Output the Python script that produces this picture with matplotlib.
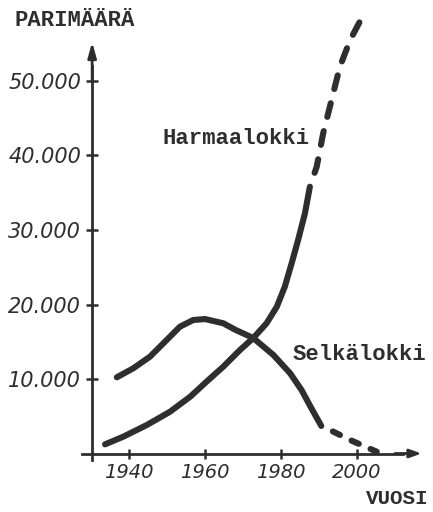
import matplotlib
matplotlib.use("Agg")
import matplotlib.pyplot as plt

# ---- data ----
harmaa_years = [1933.7, 1938.5, 1944.7, 1950.8, 1956.1, 1960.4, 1964.8, 1969.2, 1972.7,
                1976.2, 1978.9, 1981.0, 1982.8, 1984.5, 1986.3, 1987.6]
harmaa_vals = [1230, 2260, 3830, 5610, 7620, 9640, 11650, 13890, 15500,
               17480, 19700, 22390, 25530, 28660, 32240, 35810]
harmaa_proj_years = [1987.6, 1989.4, 1991.1, 1993.3, 1995.5, 1998.2, 2001.2]
harmaa_proj_vals = [35810, 38500, 42980, 47450, 51920, 55500, 58420]

selka_years = [1936.8, 1941.1, 1945.5, 1949.9, 1953.4, 1956.9, 1960.0, 1964.8, 1968.0,
               1972.7, 1978.0, 1982.4, 1985.4, 1988.0, 1990.6]
selka_vals = [10230, 11430, 12990, 15230, 17020, 17920, 18050, 17480, 16600,
              15500, 13220, 10770, 8520, 6070, 3700]
selka_proj_years = [1990.6, 1992.9, 1998.2, 2005.2]
selka_proj_vals = [3700, 3150, 1810, 240]

x_ticks = [1940, 1960, 1980, 2000]
x_tick_labels = ["1940", "1960", "1980", "2000"]
y_ticks = [10000, 20000, 30000, 40000, 50000]
y_tick_labels = ["10.000", "20.000", "30.000", "40.000", "50.000"]

ylabel_text = "PARIMÄÄRÄ"
xlabel_text = "VUOSI"
name_harmaa = "Harmaalokki"
name_selka = "Selkälokki"

# ---- figure ----
W, H = 433, 512
fig = plt.figure(figsize=(W / 100, H / 100), dpi=100)
ax = fig.add_axes([0, 0, 1, 1])
ax.set_xlim(1906.05, 2020.0)
ax.set_ylim(-7852, 60872)

ink = "#2e2e2e"
lw_curve = 4.4
lw_axis = 2.0

for s in ["top", "right"]:
    ax.spines[s].set_visible(False)
ax.spines["left"].set_position(("data", 1930.3))
ax.spines["bottom"].set_position(("data", 0))
ax.spines["left"].set_bounds(-870, 52000)
ax.spines["bottom"].set_bounds(1927.6, 2012)
for s in ["left", "bottom"]:
    ax.spines[s].set_linewidth(lw_axis)
    ax.spines[s].set_color(ink)

# arrow heads
ax.annotate("", xy=(1930.3, 55230), xytext=(1930.3, 50000),
            arrowprops=dict(arrowstyle="-|>,head_length=0.9,head_width=0.25",
                            lw=lw_axis, color=ink, shrinkA=0, shrinkB=0))
ax.annotate("", xy=(2017.0, 0), xytext=(2010, 0),
            arrowprops=dict(arrowstyle="-|>,head_length=0.7,head_width=0.25",
                            lw=lw_axis, color=ink, shrinkA=0, shrinkB=0))

ax.set_xticks(x_ticks, x_tick_labels)
ax.set_yticks(y_ticks, y_tick_labels)
ax.tick_params(axis="x", direction="inout", length=7, width=1.8, color=ink, pad=3,
               labelsize=14, labelcolor=ink)
ax.tick_params(axis="y", direction="inout", length=8, width=1.8, color=ink, pad=4,
               labelsize=15, labelcolor=ink)
for lab in ax.get_xticklabels() + ax.get_yticklabels():
    lab.set_fontstyle("italic")
    lab.set_fontfamily("DejaVu Sans")

# curves
ax.plot(harmaa_years, harmaa_vals, color=ink, lw=lw_curve, solid_capstyle="round",
        solid_joinstyle="round")
ax.plot(harmaa_proj_years, harmaa_proj_vals, color=ink, lw=lw_curve,
        linestyle=(2.3, (2.3, 2.4)), dash_capstyle="round")
ax.plot(selka_years, selka_vals, color=ink, lw=lw_curve, solid_capstyle="round",
        solid_joinstyle="round")
ax.plot(selka_proj_years, selka_proj_vals, color=ink, lw=lw_curve,
        linestyle=(1.3, (1.3, 2.1)), dash_capstyle="round")

# texts
mono = "Liberation Mono"
def ftext(px, py, s, size=16, **kw):
    fig.text(px / W, 1 - py / H, s, family=mono, color=ink, fontsize=size,
             weight="bold", va="center", **kw)

ftext(15, 20, ylabel_text, ha="left")
ftext(163, 138, name_harmaa, ha="left")
ftext(293, 354, name_selka, ha="left")
ftext(428, 499, xlabel_text, size=15, ha="right")

fig.savefig("out.png", dpi=100, facecolor="white")
